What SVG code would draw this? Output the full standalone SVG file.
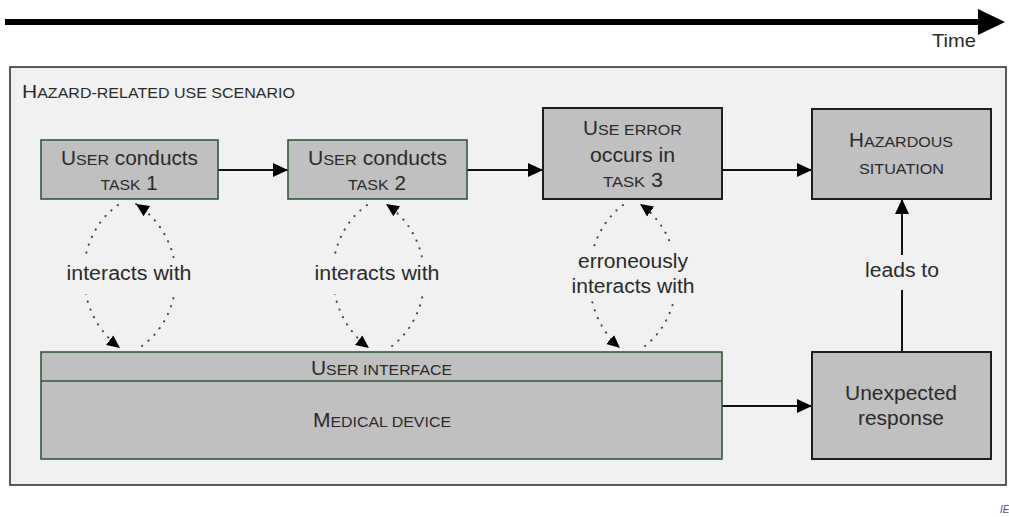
<svg xmlns="http://www.w3.org/2000/svg" width="1009" height="517" viewBox="0 0 1009 517">
<style>
text{font-family:"Liberation Sans",Arial,sans-serif;fill:#2a2a2a;text-anchor:middle;font-size:20px}
.sc{font-size:15.5px}
.gbox{fill:#c0c0c0;stroke:#2e5a3a;stroke-width:1.6}
.kbox{fill:#c0c0c0;stroke:#1e1e1e;stroke-width:2}
.conn{fill:none;stroke:#111;stroke-width:2}
.dot{fill:none;stroke:#444;stroke-width:2;stroke-dasharray:0.3 8;stroke-linecap:round}
.lblbg{fill:#f1f1f1}
</style>
<defs>
<marker id="ah" markerUnits="userSpaceOnUse" markerWidth="16" markerHeight="16" refX="15" refY="8" orient="auto">
<path d="M0,1 L15,8 L0,15 z" fill="#000"/>
</marker>
<marker id="ahs" markerUnits="userSpaceOnUse" markerWidth="14" markerHeight="14" refX="13" refY="7" orient="auto">
<path d="M0,1 L13,7 L0,13 z" fill="#000"/>
</marker>
</defs>
<rect width="1009" height="517" fill="#ffffff"/>
<g id="time-axis">
<line x1="5" y1="22" x2="982" y2="22" stroke="#000" stroke-width="6"/>
<polygon points="978,9 1005,22 978,35" fill="#000"/>
<text x="954" y="47" style="font-size:19px" textLength="44" lengthAdjust="spacingAndGlyphs">Time</text>
</g>
<g id="scenario">
<rect x="10" y="67" width="996" height="418" fill="#f1f1f1" stroke="#333" stroke-width="1.6"/>
<text x="22" y="98" style="text-anchor:start;font-size:14.5px" textLength="273" lengthAdjust="spacingAndGlyphs"><tspan style="font-size:19px">H</tspan>AZARD-RELATED USE SCENARIO</text>
</g>
<g id="connectors">
<line class="conn" x1="218" y1="170" x2="288" y2="170" marker-end="url(#ah)"/>
<line class="conn" x1="467" y1="170" x2="543" y2="170" marker-end="url(#ah)"/>
<line class="conn" x1="722" y1="170" x2="812" y2="170" marker-end="url(#ah)"/>
<line class="conn" x1="722" y1="406" x2="812" y2="406" marker-end="url(#ah)"/>
<line class="conn" x1="902" y1="352" x2="902" y2="199" marker-end="url(#ah)"/>
<path class="dot" d="M118,205 C72,238 72,312 120,348" marker-end="url(#ahs)"/>
<path class="dot" d="M142,346 C188,312 188,238 136,204" marker-end="url(#ahs)"/>
<path class="dot" d="M367,205 C321,238 321,312 369,348" marker-end="url(#ahs)"/>
<path class="dot" d="M392,346 C436,312 436,238 386,204" marker-end="url(#ahs)"/>
<path class="dot" d="M623,205 C579,238 578,312 620,348" marker-end="url(#ahs)"/>
<path class="dot" d="M645,346 C688,312 688,238 640,204" marker-end="url(#ahs)"/>
<rect class="lblbg" x="64" y="258" width="132" height="36"/>
<rect class="lblbg" x="312" y="258" width="132" height="36"/>
<rect class="lblbg" x="568" y="247" width="132" height="54"/>
<rect class="lblbg" x="862" y="255" width="80" height="35"/>
<text x="129" y="280" textLength="125" lengthAdjust="spacingAndGlyphs">interacts with</text>
<text x="377" y="280" textLength="125" lengthAdjust="spacingAndGlyphs">interacts with</text>
<text x="633" y="268" textLength="110" lengthAdjust="spacingAndGlyphs">erroneously</text>
<text x="633" y="293" textLength="123" lengthAdjust="spacingAndGlyphs">interacts with</text>
<text x="902" y="277" textLength="74" lengthAdjust="spacingAndGlyphs">leads to</text>
</g>
<g id="task1">
<rect class="gbox" x="41" y="140" width="177" height="59"/>
<text x="129.5" y="165" textLength="137" lengthAdjust="spacingAndGlyphs">U<tspan class="sc">SER</tspan> conducts</text>
<text x="129" y="190" textLength="57" lengthAdjust="spacingAndGlyphs"><tspan class="sc">TASK</tspan> 1</text>
</g>
<g id="task2">
<rect class="gbox" x="288" y="140" width="179" height="59"/>
<text x="377.5" y="165" textLength="139" lengthAdjust="spacingAndGlyphs">U<tspan class="sc">SER</tspan> conducts</text>
<text x="377" y="190" textLength="58" lengthAdjust="spacingAndGlyphs"><tspan class="sc">TASK</tspan> 2</text>
</g>
<g id="task3">
<rect class="kbox" x="543" y="108" width="179" height="91"/>
<text x="632.5" y="135" textLength="99" lengthAdjust="spacingAndGlyphs">U<tspan class="sc">SE ERROR</tspan></text>
<text x="632.5" y="162" textLength="85" lengthAdjust="spacingAndGlyphs">occurs in</text>
<text x="633" y="187" textLength="60" lengthAdjust="spacingAndGlyphs"><tspan class="sc">TASK</tspan> 3</text>
</g>
<g id="hazardous">
<rect class="kbox" x="812" y="109" width="179" height="90"/>
<text x="901" y="147" textLength="104" lengthAdjust="spacingAndGlyphs">H<tspan class="sc">AZARDOUS</tspan></text>
<text class="sc" x="901.5" y="174" textLength="85" lengthAdjust="spacingAndGlyphs">SITUATION</text>
</g>
<g id="device">
<rect class="gbox" x="41" y="352" width="681" height="107"/>
<line x1="41" y1="381" x2="722" y2="381" stroke="#2e5a3a" stroke-width="1.6"/>
<text x="381.5" y="375" style="font-size:15.5px" textLength="141" lengthAdjust="spacingAndGlyphs"><tspan style="font-size:20.5px">U</tspan>SER INTERFACE</text>
<text x="382" y="427" style="font-size:15.5px" textLength="138" lengthAdjust="spacingAndGlyphs"><tspan style="font-size:20.5px">M</tspan>EDICAL DEVICE</text>
</g>
<g id="unexpected">
<rect class="kbox" x="812" y="352" width="179" height="107"/>
<text x="901" y="400" textLength="112" lengthAdjust="spacingAndGlyphs">Unexpected</text>
<text x="901" y="425" textLength="86" lengthAdjust="spacingAndGlyphs">response</text>
</g>
<text x="1000" y="513" style="text-anchor:start;font-size:10px;font-style:italic;fill:#556">IE</text>
</svg>
